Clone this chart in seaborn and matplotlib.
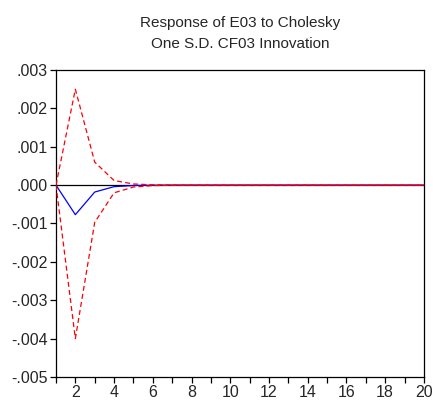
import matplotlib
matplotlib.use("Agg")
import matplotlib.pyplot as plt
import seaborn as sns
import pandas as pd
import numpy as np

periods = list(range(1, 21))
response = [0.0, -0.00077, -0.00018, -0.00004, -0.00001, -0.000002] + [0.0] * 14
upper = [0.0, 0.0025, 0.0006, 0.00012, 0.00003, 0.000008, 0.000002] + [0.0] * 13
lower = [0.0, -0.0040, -0.00097, -0.0002, -0.00005, -0.000012, -0.000003] + [0.0] * 13
yticks = [0.003, 0.002, 0.001, 0.0, -0.001, -0.002, -0.003, -0.004, -0.005]
ytick_labels = [".003", ".002", ".001", ".000", "-.001", "-.002", "-.003", "-.004", "-.005"]
xtick_labels = [2, 4, 6, 8, 10, 12, 14, 16, 18, 20]

sns.set_theme(style="ticks")
plt.rcParams['font.family'] = ['Liberation Sans', 'DejaVu Sans']

df = pd.DataFrame({"period": periods, "response": response, "upper": upper, "lower": lower})

fig = plt.figure(figsize=(4.33, 4.01), dpi=100)
ax = fig.add_axes([0.1293, 0.0599, 0.979 - 0.1293, 0.8254 - 0.0599])

ax.axhline(0, color="black", lw=0.9, zorder=1)
sns.lineplot(data=df, x="period", y="response", ax=ax, color="blue", lw=0.9, zorder=2)
sns.lineplot(data=df, x="period", y="upper", ax=ax, color="red", lw=0.9, linestyle=(0, (4, 2.5)), zorder=3)
sns.lineplot(data=df, x="period", y="lower", ax=ax, color="red", lw=0.9, linestyle=(0, (4, 2.5)), zorder=3)

ax.set_xlim(1, 20)
ax.set_ylim(-0.005, 0.003)
ax.set_xticks(xtick_labels)
ax.set_xticklabels([str(v) for v in xtick_labels], fontsize=11.5)
ax.set_xticks(list(range(1, 21, 2)), minor=True)
ax.set_yticks(yticks)
ax.set_yticklabels(ytick_labels, fontsize=11.5)
ax.tick_params(axis="both", which="both", direction="out", length=4, width=0.9, color="black", pad=2)
ax.set_xlabel("")
ax.set_ylabel("")
for s in ax.spines.values():
    s.set_visible(True)
    s.set_color("black")
    s.set_linewidth(0.9)
ax.set_title("Response of E03 to Cholesky\nOne S.D. CF03 Innovation", fontsize=11, pad=16, linespacing=1.6)

fig.savefig("out.png", dpi=100)
